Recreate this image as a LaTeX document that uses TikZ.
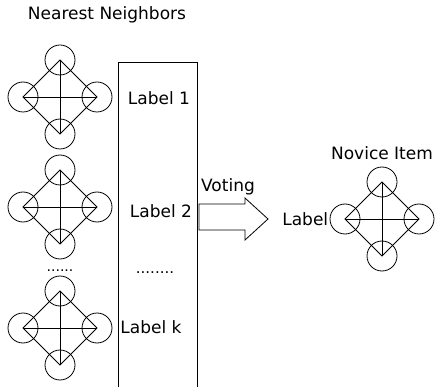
\documentclass[tikz,border=0pt]{standalone}
\usepackage{fontspec}
\setmainfont{DejaVu Sans}
\begin{document}
\begin{tikzpicture}[x=1pt,y=-1pt,line width=0.8pt,
    vtx/.style={draw,circle,minimum size=30pt,inner sep=0pt},
    txt/.style={font=\fontsize{17}{19}\selectfont}]
    \useasboundingbox (0,0) rectangle (436,387);
    \node[txt] (title) at (107,15) {Nearest Neighbors};
    % neighbour graphs
    \foreach \i/\cx/\cy in {1/60/97,2/60/207,3/60/328,4/382/219} {
        \node[vtx] (t\i) at (\cx,\cy-37) {};
        \node[vtx] (b\i) at (\cx,\cy+37) {};
        \node[vtx] (l\i) at (\cx-37,\cy) {};
        \node[vtx] (r\i) at (\cx+37,\cy) {};
        \draw (t\i.center) -- (r\i.center) -- (b\i.center) -- (l\i.center) -- cycle;
        \draw (t\i.center) -- (b\i.center);
        \draw (l\i.center) -- (r\i.center);
    }
    \node[txt,anchor=base,font=\fontsize{14}{16}\selectfont] (dots1) at (60,272) {......};
    % label column
    \draw (118,387) -- (118,62) -- (197,62) -- (197,387);
    \node[txt] (lab1) at (159,98) {Label 1};
    \node[txt] (lab2) at (161,211) {Label 2};
    \node[txt,anchor=base,font=\fontsize{15}{17}\selectfont] (dots2) at (155,273) {........};
    \node[txt,anchor=west,inner sep=0pt] (labk) at (120,327) {Label k};
    % voting arrow
    \draw (199,204) -- (245,204) -- (245,198) -- (268,219) -- (245,240) -- (245,230) -- (199,230) -- cycle;
    \node[txt] (vote) at (228,187) {Voting};
    \node[txt] (novice) at (382,153) {Novice Item};
    \node[txt,anchor=east,inner sep=1pt] (lab) at (l4.west) {Label};
\end{tikzpicture}
\end{document}
